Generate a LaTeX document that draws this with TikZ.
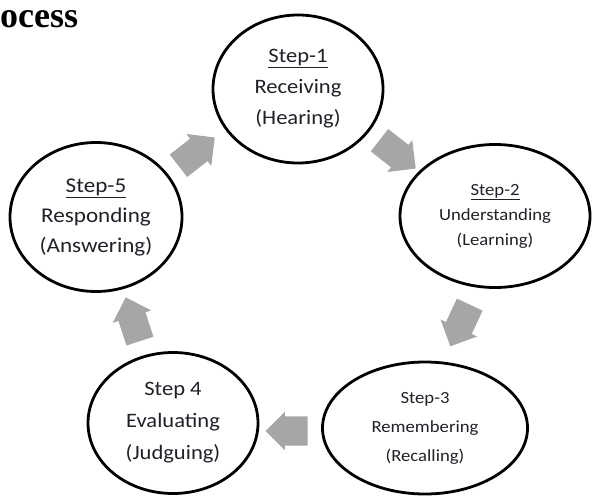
\documentclass[tikz,border=0pt]{standalone}
\usepackage{fontspec}
\setmainfont{Liberation Serif}
\newfontfamily\stepfont[FakeStretch=1.1]{Carlito}
\usetikzlibrary{shapes.geometric,shapes.arrows}
\definecolor{txt}{RGB}{32,32,40}
\definecolor{arrowgray}{RGB}{166,166,166}
\tikzset{
  stepbubble/.style={ellipse, draw=black, line width=2.8pt, text=txt, align=center, inner sep=0pt},
  blockarrow/.style={single arrow, fill=arrowgray, draw=none, inner xsep=0pt, inner ysep=14pt,
    minimum height=46pt, single arrow head extend=6pt},
}
\begin{document}
\begin{tikzpicture}[x=1pt,y=-1pt]
\useasboundingbox (0,0) rectangle (593,495);
\node[anchor=base west, inner sep=0pt, font=\bfseries\fontsize{36}{38}\selectfont] (title) at (0,28) {ocess};

\node[stepbubble, minimum width=170pt, minimum height=148pt,
  font=\stepfont\fontsize{20.5}{31}\selectfont] (s1) at (298,89)
  {\underline{Step-1}\\Receiving\\(Hearing)};
\node[stepbubble, minimum width=190pt, minimum height=143pt,
  font=\stepfont\fontsize{17}{25}\selectfont] (s2) at (495,216)
  {\underline{Step-2}\\Understanding\\(Learning)};
\node[stepbubble, minimum width=205pt, minimum height=132pt,
  font=\stepfont\fontsize{17}{29}\selectfont] (s3) at (425,428)
  {Step-3\\Remembering\\(Recalling)};
\node[stepbubble, minimum width=170pt, minimum height=141pt,
  font=\stepfont\fontsize{20.5}{32}\selectfont] (s4) at (173,423)
  {Step 4\\Evaluating\\(Judguing)};
\node[stepbubble, minimum width=172pt, minimum height=149pt,
  font=\stepfont\fontsize{21}{30}\selectfont] (s5) at (96,217)
  {\underline{Step-5}\\Responding\\(Answering)};

\node[blockarrow, rotate=38] (a51) at (191,156) {};
\node[blockarrow, rotate=-38] (a12) at (392,150) {};
\node[blockarrow, rotate=-115] (a23) at (463,319) {};
\node[blockarrow, rotate=180, minimum height=42pt, inner ysep=14.5pt, single arrow head extend=4.5pt] (a34) at (294,431) {};
\node[blockarrow, rotate=108] (a45) at (135,326) {};
\end{tikzpicture}
\end{document}
